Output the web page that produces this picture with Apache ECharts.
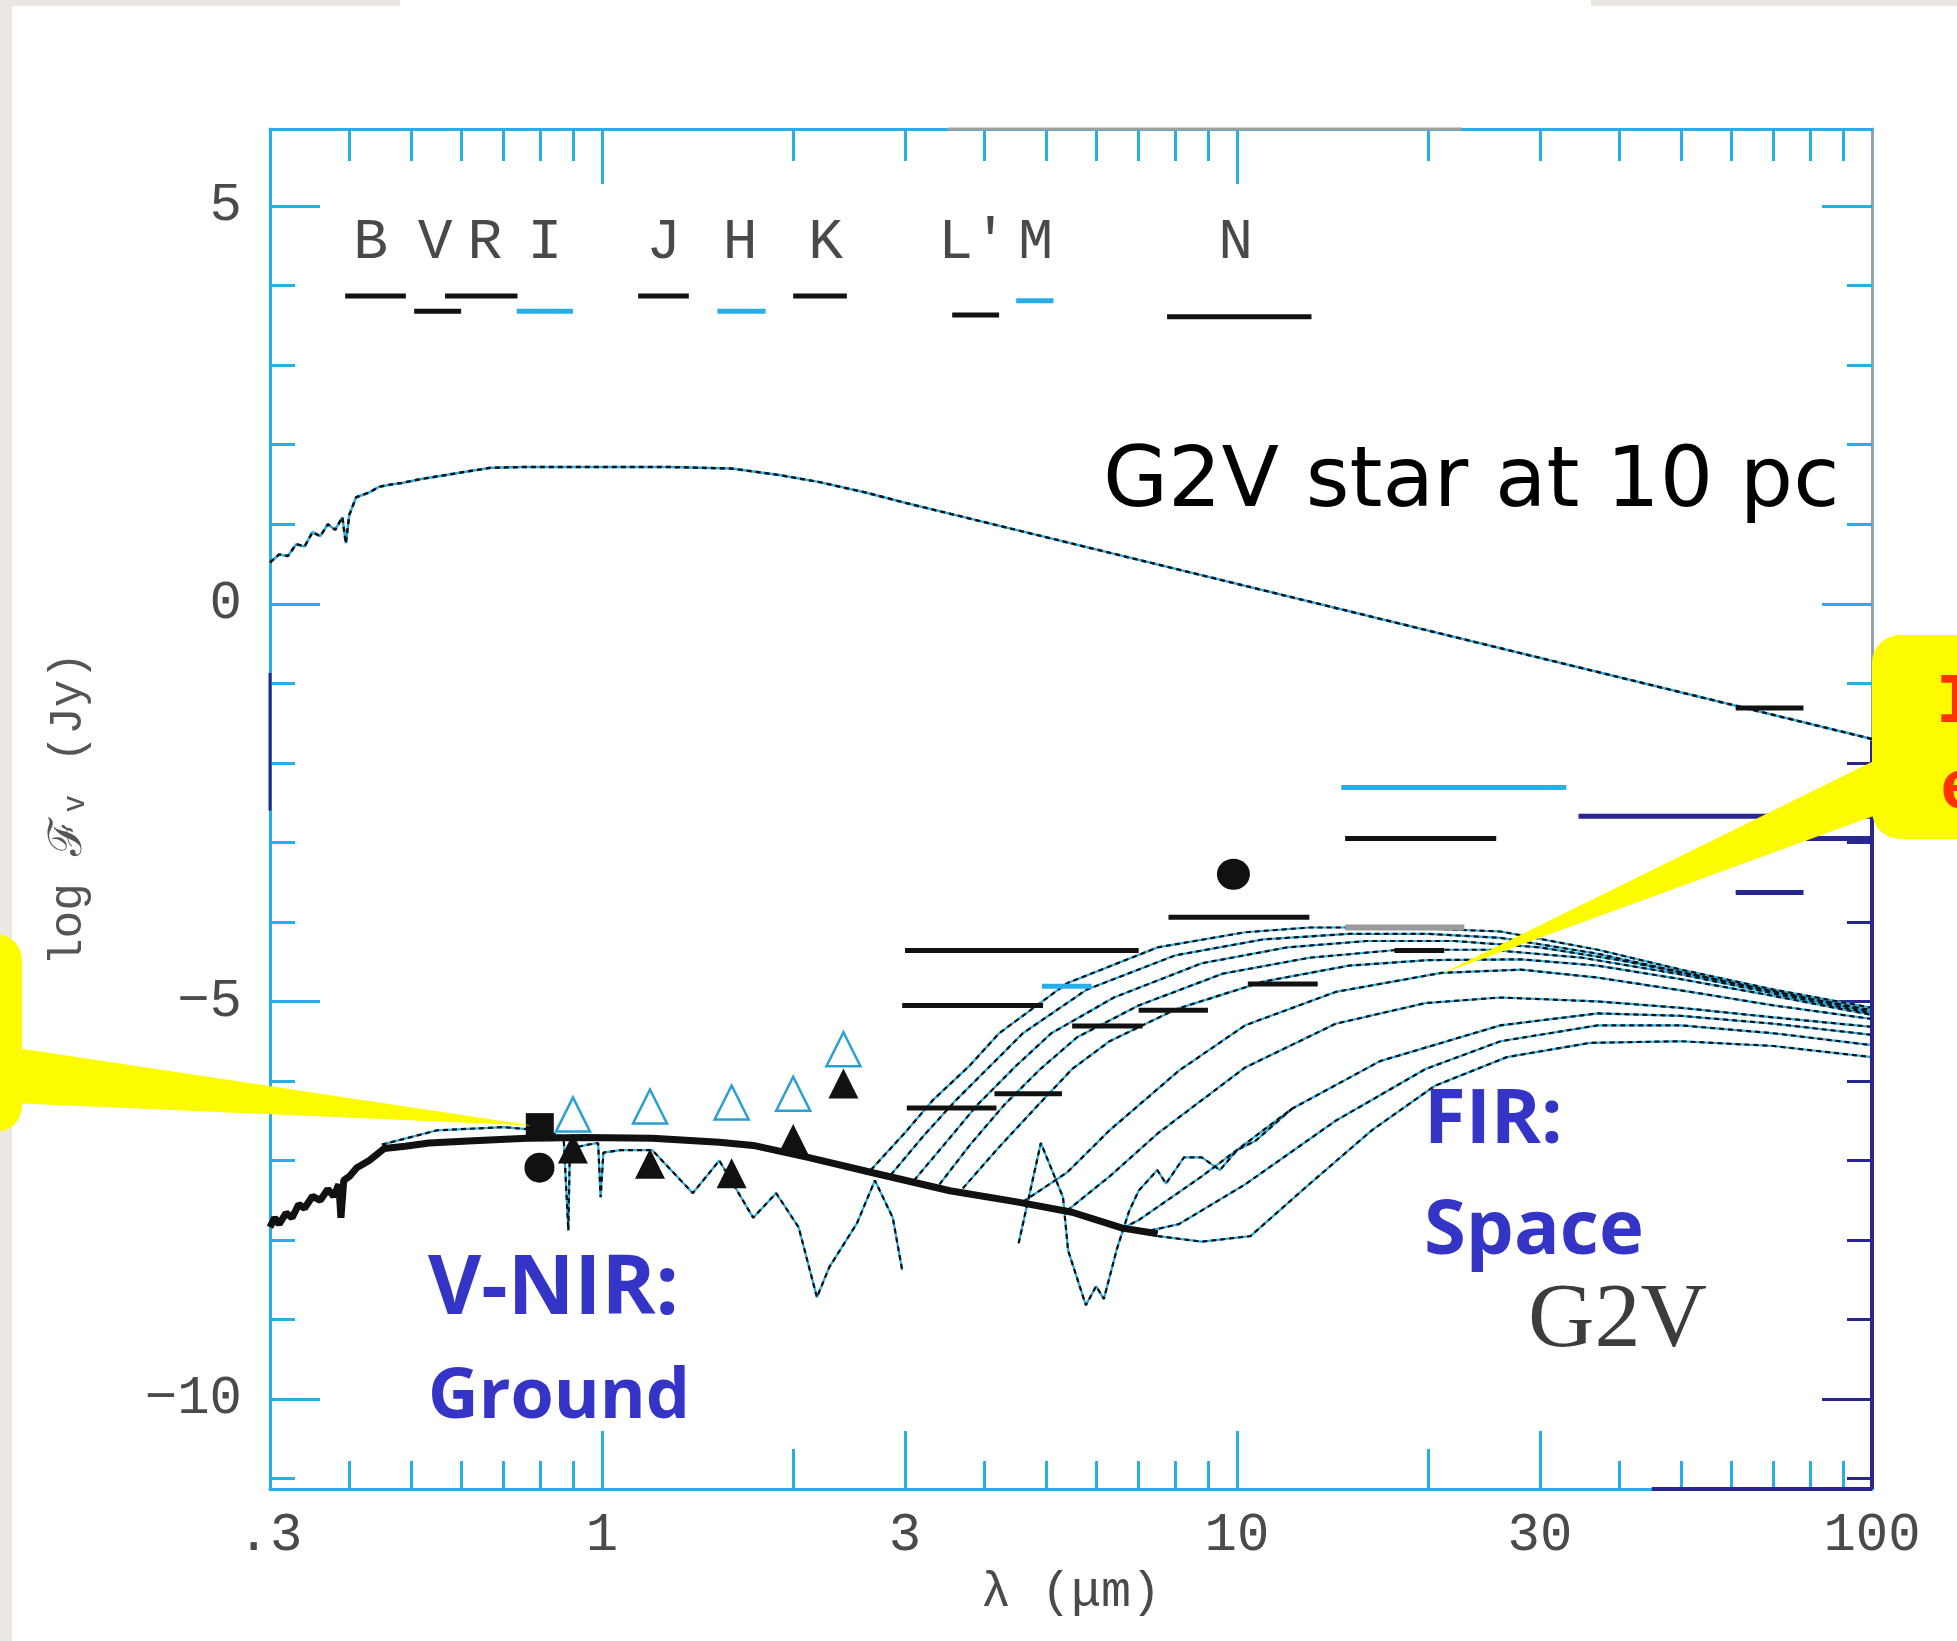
<!DOCTYPE html>
<html>
<head>
<meta charset="utf-8">
<script src="https://cdn.jsdelivr.net/npm/echarts@6/dist/echarts.min.js"></script>
<style>
html, body { margin: 0; padding: 0; background: #fff; }
#main { width: 1957px; height: 1641px; }
</style>
</head>
<body>
<div id="main"></div>
<script>
// wavelength in micron, flux as log F_nu (Jy)

// G2V star at 10 pc
var starLam  = [0.30, 0.31, 0.32, 0.33, 0.34, 0.35, 0.36, 0.37, 0.38, 0.39, 0.395, 0.40, 0.41, 0.43, 0.445, 0.465, 0.484, 0.52, 0.568, 0.62, 0.668, 0.75, 0.92, 1.28, 1.6, 1.9, 2.2, 2.6, 3.0, 3.5, 100];
var starFlux = [0.52, 0.62, 0.60, 0.75, 0.72, 0.90, 0.85, 1.00, 0.93, 1.09, 0.76, 1.12, 1.34, 1.40, 1.47, 1.50, 1.52, 1.57, 1.62, 1.67, 1.71, 1.72, 1.72, 1.72, 1.70, 1.62, 1.53, 1.40, 1.27, 1.14, -1.70];

// reflected light of the planet (thick curve)
var reflLam  = [0.30, 0.305, 0.31, 0.318, 0.325, 0.333, 0.34, 0.35, 0.36, 0.37, 0.378, 0.385, 0.388, 0.392, 0.40, 0.411, 0.43, 0.454, 0.49, 0.534, 0.627, 0.762, 0.94, 1.2, 1.53, 1.73, 2.11, 2.69, 3.53, 4.5, 5.5, 6.6, 7.5];
var reflFlux = [-7.84, -7.72, -7.80, -7.66, -7.72, -7.55, -7.60, -7.45, -7.50, -7.36, -7.45, -7.30, -7.72, -7.25, -7.20, -7.09, -7.00, -6.85, -6.82, -6.78, -6.75, -6.72, -6.71, -6.72, -6.77, -6.81, -6.96, -7.16, -7.38, -7.52, -7.65, -7.85, -7.92];

// absorption spectra
var specLam  = [0.45, 0.55, 0.7, 0.8, 0.87, 0.885, 0.89, 0.95, 0.986, 0.995, 1.005, 1.07, 1.2, 1.39, 1.53, 1.73, 1.88, 2.04, 2.18, 2.28, 2.52, 2.69, 2.87, 2.97];
var specFlux = [-6.80, -6.62, -6.58, -6.62, -6.70, -7.88, -6.85, -6.80, -6.78, -7.46, -6.90, -6.87, -6.87, -7.41, -7.00, -7.72, -7.41, -7.84, -8.72, -8.34, -7.79, -7.25, -7.72, -8.38];
var spec2Lam  = [4.53, 4.91, 5.32, 5.42, 5.78, 6.0, 6.17, 6.47, 6.76, 7.0, 7.49, 7.73, 8.25, 8.8, 9.4, 10.0, 10.7, 12.2];
var spec2Flux = [-8.04, -6.78, -7.46, -8.13, -8.82, -8.58, -8.74, -8.11, -7.64, -7.38, -7.12, -7.29, -6.96, -6.96, -7.12, -6.87, -6.75, -6.35];

// thermal emission models
var aLam  = [2.65, 3.0, 3.32, 3.8, 4.22, 5.4, 7.5, 10.3, 13, 18, 26, 37, 50, 70, 100];
var aFlux = [-7.12, -6.65, -6.24, -5.80, -5.40, -4.77, -4.32, -4.13, -4.07, -4.07, -4.12, -4.35, -4.60, -4.85, -5.08];
var bLam  = [2.85, 3.2, 3.6, 4.1, 4.6, 5.8, 8, 11, 15, 20, 26, 37, 50, 70, 100];
var bFlux = [-7.18, -6.70, -6.25, -5.80, -5.40, -4.85, -4.42, -4.22, -4.15, -4.15, -4.20, -4.40, -4.63, -4.88, -5.11];
var cLam  = [3.1, 3.5, 3.9, 4.5, 5.1, 6.4, 8.8, 12, 16, 22, 30, 40, 55, 75, 100];
var cFlux = [-7.25, -6.75, -6.30, -5.80, -5.40, -4.95, -4.52, -4.32, -4.24, -4.24, -4.32, -4.48, -4.70, -4.92, -5.13];
var dLam  = [3.4, 3.8, 4.3, 4.9, 5.6, 7, 9.5, 13, 18, 25, 35, 50, 70, 100];
var dFlux = [-7.30, -6.80, -6.30, -5.85, -5.45, -5.05, -4.65, -4.45, -4.35, -4.35, -4.45, -4.66, -4.90, -5.15];
var eLam  = [3.7, 4.2, 4.8, 5.5, 6.3, 8, 11, 15, 20, 28, 37, 50, 70, 100];
var eFlux = [-7.35, -6.85, -6.35, -5.85, -5.50, -5.10, -4.75, -4.55, -4.48, -4.47, -4.55, -4.72, -4.93, -5.17];
var pLam  = [4.6, 5.4, 6.3, 8.1, 10.3, 14.3, 21, 28, 37, 50, 70, 100];
var pFlux = [-7.52, -7.15, -6.62, -5.87, -5.30, -4.88, -4.64, -4.60, -4.70, -4.86, -5.05, -5.22];
var fLam  = [5.4, 6.3, 7.5, 10.3, 14.3, 19.8, 26, 37, 50, 70, 100];
var fFlux = [-7.63, -7.20, -6.66, -5.83, -5.28, -5.02, -4.95, -5.00, -5.08, -5.20, -5.32];
var gLam  = [6.6, 7.0, 8.8, 12.2, 16.8, 26, 37, 50, 70, 100];
var gFlux = [-7.85, -7.75, -7.20, -6.35, -5.75, -5.30, -5.15, -5.18, -5.28, -5.42];
var hLam  = [7.3, 8.1, 10.3, 14.3, 19.8, 26, 37, 50, 70, 100];
var hFlux = [-7.88, -7.80, -7.30, -6.50, -5.85, -5.50, -5.30, -5.30, -5.40, -5.55];
var iLam  = [7.5, 8.8, 10.5, 12.9, 16.3, 20.5, 26.6, 36, 50, 70, 100];
var iFlux = [-7.95, -8.02, -7.95, -7.32, -6.62, -6.06, -5.70, -5.52, -5.50, -5.56, -5.70];

// sensitivity limits (horizontal bars)
var limLo   = [3.0, 2.97, 3.02, 4.15, 4.93, 5.5, 7.0, 7.8, 10.4, 14.6, 14.8, 34.5, 61, 61, 73, 14.8, 17.7];
var limHi   = [7.0, 4.95, 4.18, 5.3, 5.9, 7.1, 9.0, 13.0, 13.4, 33, 25.6, 100, 78, 78, 100, 22.8, 21.2];
var limFlux = [-4.36, -5.05, -6.34, -6.16, -4.81, -5.31, -5.11, -3.94, -4.78, -2.31, -2.95, -2.67, -1.31, -3.63, -2.95, -4.07, -4.36];

// photometric bands
var bandName = ['B', 'V', 'R', 'I', 'J', 'H', 'K', "L'", 'M', 'N'];
var bandLo   = [0.394, 0.506, 0.566, 0.734, 1.14, 1.52, 2.0, 3.56, 4.49, 7.76];
var bandHi   = [0.491, 0.60, 0.736, 0.90, 1.37, 1.81, 2.43, 4.22, 5.14, 13.1];
var bandFlux = [3.87, 3.68, 3.87, 3.68, 3.87, 3.68, 3.87, 3.63, 3.81, 3.61];
var bandTextLam = [0.432, 0.546, 0.654, 0.813, 1.25, 1.65, 2.25, 3.84, 4.82, 9.95];
var bandTextFlux = 4.54;

// measured points
var sqLam = [0.798], sqFlux = [-6.58];
var dotLam = [0.797], dotFlux = [-7.09];
var bigDotLam = [9.87], bigDotFlux = [-3.40];
var triLam = [0.90, 1.19, 1.6, 2.0, 2.4];
var triFlux = [-6.85, -7.04, -7.16, -6.73, -6.03];
var openTriLam = [0.90, 1.19, 1.6, 2.0, 2.4];
var openTriFlux = [-6.42, -6.32, -6.27, -6.16, -5.60];

var xLabelVals = [0.3, 1, 3, 10, 30, 100];
var xMajor = [1, 3, 10, 30];
var xMedium = [2, 20];
var xMinor = [0.4, 0.5, 0.6, 0.7, 0.8, 0.9, 4, 5, 6, 7, 8, 9, 40, 50, 60, 70, 80, 90];
var xTopMajor = [1, 10];
var xTopMinor = [0.4, 0.5, 0.6, 0.7, 0.8, 0.9, 2, 3, 4, 5, 6, 7, 8, 9, 20, 30, 40, 50, 60, 70, 80, 90];
var yLabelVals = [-10, -5, 0, 5];
var yMinorHigh = [4, 3, 2, 1, -1];
var yMinorLow = [-2, -3, -4, -6, -7, -8, -9, -11];

var X0 = Math.log10(0.3), X1 = 2, Y0 = -11.13, Y1 = 5.97;
var CYAN = '#27aee6', NAVY = '#27278f', INK = '#111111', GREY = '#4a4a4a';

function lg(v) { return Math.log10(v); }
function pts(lam, flux) {
  var out = [];
  for (var i = 0; i < lam.length; i++) out.push([lg(lam[i]), flux[i]]);
  return out;
}

function xAx(pos, ticks, len, showLine, labels) {
  var a = {
    type: 'value', min: X0, max: X1, position: pos, offset: 0,
    axisLine: { show: showLine, onZero: false, lineStyle: { color: CYAN, width: 3 } },
    axisTick: { show: true, inside: true, length: len, customValues: ticks.map(lg), lineStyle: { color: CYAN, width: 3 } },
    axisLabel: { show: false },
    splitLine: { show: false }
  };
  if (labels) {
    a.axisLabel = {
      show: true, customValues: xLabelVals.map(lg), showMinLabel: true, showMaxLabel: true, margin: 20,
      fontFamily: 'Liberation Mono', fontSize: 54, color: GREY,
      formatter: function (v) {
        var l = Math.round(Math.pow(10, v) * 10) / 10;
        return l < 1 ? String(l).replace('0.', '.') : String(l);
      }
    };
    a.name = 'λ (μm)';
    a.nameLocation = 'middle';
    a.nameGap = 78;
    a.nameTextStyle = { fontFamily: 'Liberation Mono', fontSize: 50, color: GREY };
  }
  return a;
}

function yAx(pos, ticks, len, color, showLine, labels) {
  var a = {
    type: 'value', min: Y0, max: Y1, position: pos, offset: 0,
    axisLine: { show: showLine, onZero: false, lineStyle: { color: pos === 'right' ? '#8fa3b0' : CYAN, width: 3 } },
    axisTick: { show: true, inside: true, length: len, customValues: ticks, lineStyle: { color: color, width: 3 } },
    axisLabel: { show: false },
    splitLine: { show: false }
  };
  if (labels) {
    a.axisLabel = {
      show: true, customValues: yLabelVals, margin: 28,
      fontFamily: 'Liberation Mono', fontSize: 54, color: GREY,
      formatter: function (v) { return v < 0 ? '\u2212' + (-v) : String(v); }
    };
    a.name = 'log \u2131\u1d65 (Jy)';
    a.nameLocation = 'middle';
    a.nameGap = 178;
    a.nameTextStyle = { fontFamily: 'Liberation Mono', fontSize: 46, color: '#555' };
  }
  return a;
}

function dual(lam, flux, w) {
  var d = pts(lam, flux);
  return [
    { type: 'line', data: d, symbol: 'none', z: 3, lineStyle: { color: CYAN, width: w } },
    { type: 'line', data: d, symbol: 'none', z: 4, lineStyle: { color: INK, width: w, type: [5, 4] } }
  ];
}

function seg(p, color, w, z) {
  return { type: 'line', data: p, symbol: 'none', clip: false, z: z || 6, lineStyle: { color: color, width: w } };
}

var series = [];
series = series.concat(dual(starLam, starFlux, 2.5));
series.push({ type: 'line', data: pts(reflLam, reflFlux), symbol: 'none', z: 5, lineStyle: { color: INK, width: 7 } });
series = series.concat(dual(specLam, specFlux, 2.2));
series = series.concat(dual(spec2Lam, spec2Flux, 2.2));

var models = [[aLam, aFlux], [bLam, bFlux], [cLam, cFlux], [dLam, dFlux], [eLam, eFlux],
              [pLam, pFlux], [fLam, fFlux], [gLam, gFlux], [hLam, hFlux], [iLam, iFlux]];
models.forEach(function (m) { series = series.concat(dual(m[0], m[1], 2.2)); });

// bar colours by index
var limStyle = ['k', 'k', 'k', 'k', 'c', 'k', 'k', 'k', 'k', 'c', 'k', 'n', 'k', 'n', 'n', 'g', 'k'];
var styleColor = { k: INK, c: CYAN, n: NAVY, g: '#9a9a9a' };
for (var i = 0; i < limLo.length; i++) {
  series.push(seg([[lg(limLo[i]), limFlux[i]], [lg(limHi[i]), limFlux[i]]], styleColor[limStyle[i]], limStyle[i] === 'g' ? 6 : 5, 6));
}

var bandStyle = ['k', 'k', 'k', 'c', 'k', 'c', 'k', 'k', 'c', 'k'];
for (var j = 0; j < bandName.length; j++) {
  series.push(seg([[lg(bandLo[j]), bandFlux[j]], [lg(bandHi[j]), bandFlux[j]]], styleColor[bandStyle[j]], 5, 6));
}

series.push({
  type: 'scatter', z: 7, symbolSize: 1, itemStyle: { color: 'rgba(0,0,0,0)' },
  label: { show: true, position: 'inside', formatter: '{b}', fontFamily: 'Liberation Mono', fontSize: 58, color: '#1c1c1c' },
  data: bandName.map(function (n, k) { return { name: n, value: [lg(bandTextLam[k]), bandTextFlux] }; })
});

var solid = { color: INK, opacity: 1 };
series.push({ type: 'scatter', z: 8, symbol: 'rect', symbolSize: 28, itemStyle: solid, data: pts(sqLam, sqFlux) });
series.push({ type: 'scatter', z: 8, symbol: 'circle', symbolSize: 30, itemStyle: solid, data: pts(dotLam, dotFlux) });
series.push({ type: 'scatter', z: 8, symbol: 'circle', symbolSize: [33, 31], itemStyle: solid, data: pts(bigDotLam, bigDotFlux) });
series.push({ type: 'scatter', z: 8, symbol: 'triangle', symbolSize: 30, itemStyle: solid, data: pts(triLam, triFlux) });
series.push({ type: 'scatter', z: 8, symbol: 'triangle', symbolSize: 34, itemStyle: { color: '#fff', opacity: 1, borderColor: '#2a9fd4', borderWidth: 2.5 }, data: pts(openTriLam, openTriFlux) });

// frame colour changes of the scanned original
series.push(seg([[X1, -1.72], [X1, Y0]], NAVY, 4, 9));
series.push(seg([[lg(45), Y0], [X1, Y0]], NAVY, 4, 9));
series.push(seg([[X0, -0.87], [X0, -2.6]], NAVY, 3, 9));
series.push(seg([[lg(3.5), Y1], [lg(22.6), Y1]], '#a0a0a0', 3, 9));

var chart = echarts.init(document.getElementById('main'));
var option = {
  animation: false,
  backgroundColor: '#fff',
  grid: { left: 270, top: 129, width: 1602, height: 1360, containLabel: false, outerBoundsMode: 'none' },
  xAxis: [
    xAx('bottom', xMajor, 58, true, true),
    xAx('bottom', xMedium, 40, false, false),
    xAx('bottom', xMinor, 28, false, false),
    xAx('top', xTopMajor, 55, true, false),
    xAx('top', xTopMinor, 32, false, false)
  ],
  yAxis: [
    yAx('left', yLabelVals, 50, CYAN, true, true),
    yAx('left', yMinorHigh.concat(yMinorLow), 25, CYAN, false, false),
    yAx('right', [5, 0], 50, CYAN, true, false),
    yAx('right', [-5, -10], 50, NAVY, false, false),
    yAx('right', yMinorHigh, 25, CYAN, false, false),
    yAx('right', yMinorLow, 25, NAVY, false, false)
  ],
  series: series
};
chart.setOption(option);

// callouts and annotations
var tipL = chart.convertToPixel({ gridIndex: 0 }, [lg(0.775), -6.56]);
var tipR = chart.convertToPixel({ gridIndex: 0 }, [lg(21), -4.65]);
var YEL = '#fdfb00';
chart.setOption({
  graphic: [
    { type: 'rect', shape: { x: 0, y: 0, width: 12, height: 1641 }, style: { fill: '#ebe8e3' }, z: 1 },
    { type: 'rect', shape: { x: 0, y: 0, width: 400, height: 6 }, style: { fill: '#ebe8e3' }, z: 1 },
    { type: 'rect', shape: { x: 1591, y: 0, width: 366, height: 6 }, style: { fill: '#ebe8e3' }, z: 1 },

    { type: 'text', x: 1103, y: 484, z: 50, style: { text: 'G2V star at 10 pc', font: '84px "DejaVu Sans"', fill: '#000', textAlign: 'left', textVerticalAlign: 'middle' } },
    { type: 'text', x: 1424, y: 1121, z: 50, style: { text: 'FIR:', font: 'bold 76px "Open Sans"', fill: '#3434c6', textAlign: 'left', textVerticalAlign: 'middle' } },
    { type: 'text', x: 1424, y: 1232, z: 50, style: { text: 'Space', font: 'bold 76px "Open Sans"', fill: '#3434c6', textAlign: 'left', textVerticalAlign: 'middle' } },
    { type: 'text', x: 428, y: 1291, z: 50, style: { text: 'V-NIR:', font: 'bold 82px "Open Sans"', fill: '#3434c6', textAlign: 'left', textVerticalAlign: 'middle' } },
    { type: 'text', x: 428, y: 1398, z: 50, style: { text: 'Ground', font: 'bold 70px "Open Sans"', fill: '#3434c6', textAlign: 'left', textVerticalAlign: 'middle' } },
    { type: 'text', x: 1528, y: 1322, z: 50, style: { text: 'G2V', font: '92px "Liberation Serif"', fill: '#3c3c3c', textAlign: 'left', textVerticalAlign: 'middle' } },

    { type: 'rect', z: 100, shape: { x: -40, y: 934, width: 62, height: 198, r: 26 }, style: { fill: YEL } },
    { type: 'polygon', z: 100, shape: { points: [[10, 1047], tipL, [10, 1103]] }, style: { fill: YEL } },
    { type: 'rect', z: 100, shape: { x: 1872, y: 635, width: 160, height: 204, r: 28 }, style: { fill: YEL } },
    { type: 'polygon', z: 100, shape: { points: [[1890, 753], tipR, [1890, 810]] }, style: { fill: YEL } },
    { type: 'text', x: 1936, y: 704, z: 101, style: { text: 'I', font: 'bold 70px "Liberation Mono"', fill: '#ff3300', textAlign: 'left', textVerticalAlign: 'middle' } },
    { type: 'text', x: 1940, y: 790, z: 101, style: { text: 'e', font: 'bold 70px "Liberation Mono"', fill: '#ff3300', textAlign: 'left', textVerticalAlign: 'middle' } }
  ]
});
</script>
</body>
</html>
